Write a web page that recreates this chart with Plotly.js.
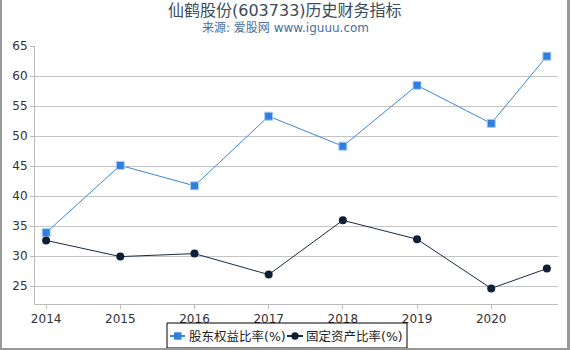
<!DOCTYPE html>
<html><head><meta charset="utf-8">
<script src="https://cdn.plot.ly/plotly-3.0.1.min.js"></script>
<style>
html,body{margin:0;padding:0;background:#fff;}
#frame{position:absolute;left:0;top:0;width:570px;height:350px;box-sizing:border-box;border-left:2px solid #999;border-right:3px solid #999;border-bottom:2px solid #999;pointer-events:none;}
#chart{position:absolute;left:0;top:0;width:570px;height:350px;}
</style></head>
<body>
<div id="chart"></div>
<div id="frame"></div>
<script>
var years = [2014, 2015, 2016, 2017, 2018, 2019, 2020, 2020.75];
var tickVals = [2014, 2015, 2016, 2017, 2018, 2019, 2020];
var tickText = ["2014", "2015", "2016", "2017", "2018", "2019", "2020"];
var equityRatio = [33.9, 45.1, 41.7, 53.3, 48.3, 58.45, 52.1, 63.3];
var fixedAssetRatio = [32.6, 29.9, 30.4, 26.9, 35.95, 32.8, 24.6, 27.9];
var seriesNames = ["股东权益比率(%)", "固定资产比率(%)"];
var titleText = "仙鹤股份(603733)历史财务指标";
var subtitleText = "来源: 爱股网 www.iguuu.com";

var font = '"DejaVu Sans", "Noto Sans CJK SC", sans-serif';
var colors = ['#2f7fde', '#0f1f38'];
var lineColors = ['#3a86d9', '#1b2a40'];

var M = {l: 35, r: 12, t: 46, b: 46}, W = 570, H = 350;
var pw = W - M.l - M.r, ph = H - M.t - M.b;
function px(p) { return (p - M.l) / pw; }
function py(p) { return (H - M.b - p) / ph; }

var traces = [
  {x: years, y: equityRatio, name: seriesNames[0], type: 'scatter', mode: 'lines+markers',
   line: {color: lineColors[0], width: 1}, marker: {symbol: 'square', size: 8, color: colors[0], line: {color: '#a9cdf2', width: 1}}},
  {x: years, y: fixedAssetRatio, name: seriesNames[1], type: 'scatter', mode: 'lines+markers',
   line: {color: lineColors[1], width: 1}, marker: {symbol: 'circle', size: 8, color: colors[1]}}
];

// custom legend (box, symbols, labels)
var legY = 336;
var shapes = [
  {type: 'rect', xref: 'paper', yref: 'paper', x0: px(167), x1: px(407), y0: py(323), y1: py(348), line: {color: '#000', width: 1}, fillcolor: '#fff', layer: 'above'},
  {type: 'line', xref: 'paper', yref: 'paper', x0: px(170), x1: px(185), y0: py(legY), y1: py(legY), line: {color: lineColors[0], width: 2}, layer: 'above'},
  {type: 'rect', xref: 'paper', yref: 'paper', x0: px(174), x1: px(181.5), y0: py(332.3), y1: py(339.7), line: {width: 0}, fillcolor: colors[0], layer: 'above'},
  {type: 'line', xref: 'paper', yref: 'paper', x0: px(287), x1: px(303), y0: py(legY), y1: py(legY), line: {color: lineColors[1], width: 2}, layer: 'above'},
  {type: 'circle', xref: 'paper', yref: 'paper', x0: px(291.3), x1: px(298.7), y0: py(332.3), y1: py(339.7), line: {width: 0}, fillcolor: colors[1], layer: 'above'}
];

var layout = {
  width: W, height: H,
  margin: M,
  paper_bgcolor: '#fff', plot_bgcolor: '#fff',
  font: {family: font, size: 12, color: '#333'},
  showlegend: false,
  shapes: shapes,
  annotations: [
    {text: titleText, xref: 'paper', yref: 'paper', x: px(285), y: py(11), yanchor: 'middle', xanchor: 'center',
     showarrow: false, font: {size: 16, color: '#3a4b5c', family: font}},
    {text: subtitleText, xref: 'paper', yref: 'paper', x: px(285), y: py(28), yanchor: 'middle', xanchor: 'center',
     showarrow: false, font: {size: 12, color: '#4a6d9c', family: font}},
    {text: seriesNames[0], xref: 'paper', yref: 'paper', x: px(187), y: py(legY), yanchor: 'middle', xanchor: 'left',
     showarrow: false, font: {size: 12.5, color: '#222', family: font}},
    {text: seriesNames[1], xref: 'paper', yref: 'paper', x: px(304), y: py(legY), yanchor: 'middle', xanchor: 'left',
     showarrow: false, font: {size: 12.5, color: '#222', family: font}}
  ],
  xaxis: {type: 'linear', range: [2013.85, 2020.9], tickvals: tickVals, ticktext: tickText,
          showgrid: false, zeroline: false, showline: true, linecolor: '#bbb', linewidth: 1,
          ticks: 'outside', ticklen: 4, tickcolor: '#bbb', tickfont: {size: 12, color: '#333'}},
  yaxis: {range: [22, 65], dtick: 5, tick0: 0, showgrid: true, gridcolor: '#c4c4c4', gridwidth: 1,
          zeroline: false, showline: true, linecolor: '#bbb', ticks: 'outside', ticklen: 4, tickcolor: '#bbb',
          tickfont: {size: 12, color: '#333'}}
};
Plotly.newPlot('chart', traces, layout, {displayModeBar: false, staticPlot: true});
</script>
</body></html>
